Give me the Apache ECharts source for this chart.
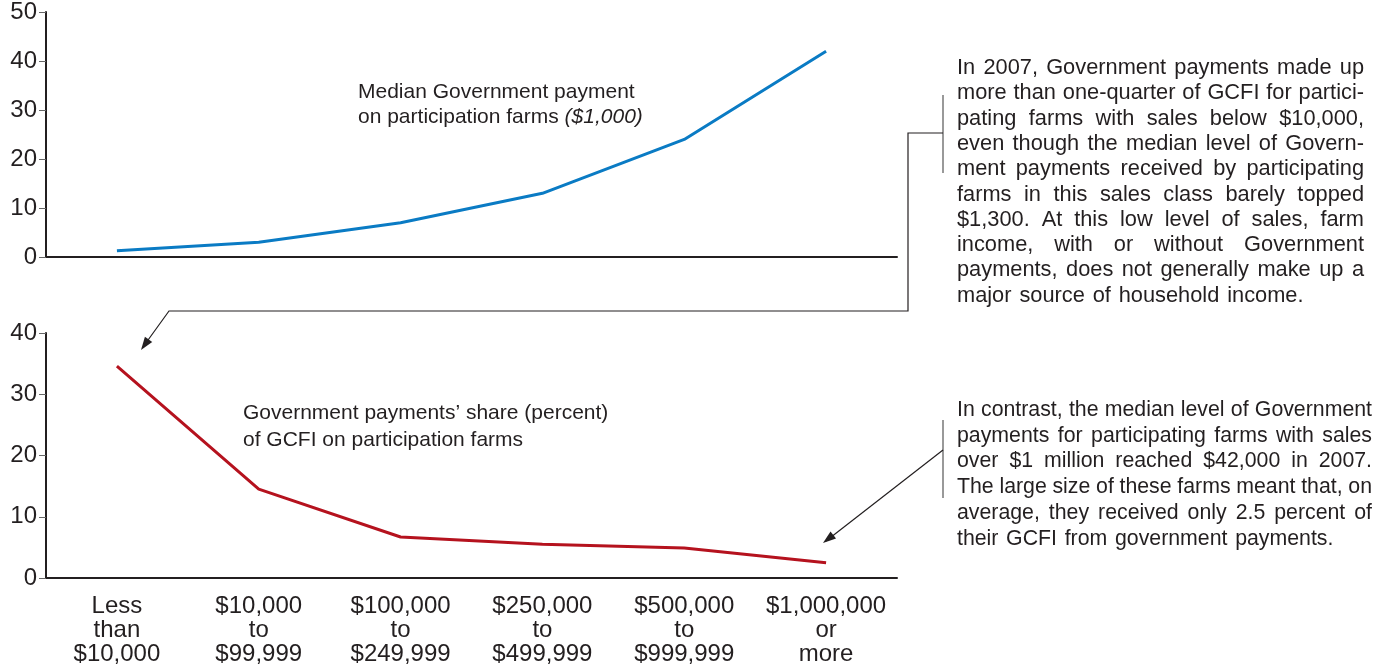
<!DOCTYPE html>
<html>
<head>
<meta charset="utf-8">
<script src="https://cdn.jsdelivr.net/npm/echarts@6/dist/echarts.min.js"></script>
<style>
  html, body { margin: 0; padding: 0; background: #fff; }
  #root { width: 1389px; height: 667px; }
</style>
</head>
<body>
<div id="root"></div>
<script>
// 数据
const categories = ['Less\nthan\n$10,000', '$10,000\nto\n$99,999', '$100,000\nto\n$249,999',
  '$250,000\nto\n$499,999', '$500,000\nto\n$999,999', '$1,000,000\nor\nmore'];
const medianPayment = [1.3, 3, 7, 13, 24, 42];       // $1,000
const paymentShare = [34.6, 14.5, 6.7, 5.5, 4.9, 2.5]; // percent
const topAxisMax = 50;
const bottomAxisMax = 40;

const topNote = [
  'In 2007, Government payments made up',
  'more than one-quarter of GCFI for partici-',
  'pating farms with sales below $10,000,',
  'even though the median level of Govern-',
  'ment payments received by participating',
  'farms in this sales class barely topped',
  '$1,300. At this low level of sales, farm',
  'income, with or without Government',
  'payments, does not generally make up a',
  'major source of household income.'
];
const bottomNote = [
  'In contrast, the median level of Government',
  'payments for participating farms with sales',
  'over $1 million reached $42,000 in 2007.',
  'The large size of these farms meant that, on',
  'average, they received only 2.5 percent of',
  'their GCFI from government payments.'
];

const INK = '#231f20';
const FONT = '"Liberation Sans", Arial, sans-serif';

// 两端对齐的文字，逐词摆放
let measureCtx = document.createElement('canvas').getContext('2d');
let justify = function (lines, left, right, top, lh, size) {
  let font = size + 'px ' + FONT;
  measureCtx.font = font;
  let els = [];
  lines.forEach((line, i) => {
    let words = line.split(' ');
    let widths = words.map(w => measureCtx.measureText(w).width);
    let total = widths.reduce((a, b) => a + b, 0);
    let last = i === lines.length - 1;
    let gap = last ? measureCtx.measureText(' ').width * 1.3 : (right - left - total) / (words.length - 1);
    let x = left;
    words.forEach((w, j) => {
      els.push({
        type: 'text', x: x, y: top + i * lh,
        style: { text: w, font: font, fill: INK, verticalAlign: 'middle' }
      });
      x += widths[j] + gap;
    });
  });
  return els;
};

let arrowHead = function (from, to, len, half) {
  let dx = to[0] - from[0], dy = to[1] - from[1];
  let d = Math.sqrt(dx * dx + dy * dy);
  let ux = dx / d, uy = dy / d;
  let bx = to[0] - ux * len, by = to[1] - uy * len;
  return {
    type: 'polygon',
    shape: { points: [to, [bx - uy * half, by + ux * half], [bx + uy * half, by - ux * half]] },
    style: { fill: INK }
  };
};

let lineStyle = { stroke: INK, lineWidth: 1.2, fill: null };
let graphics = [
  { type: 'polyline', shape: { points: [[943, 95], [943, 173]] }, style: { stroke: '#555', lineWidth: 1.2, fill: null } },
  { type: 'polyline', shape: { points: [[943, 133], [908, 133], [908, 311], [169, 311], [143, 347]] }, style: lineStyle },
  arrowHead([169, 311], [141, 350], 13, 4.5),
  { type: 'polyline', shape: { points: [[943, 420], [943, 498]] }, style: { stroke: '#555', lineWidth: 1.2, fill: null } },
  { type: 'polyline', shape: { points: [[943, 450], [826, 541]] }, style: lineStyle },
  arrowHead([943, 450], [823, 543], 13, 4.5),
  {
    type: 'text', x: 358, y: 79.5,
    style: {
      text: 'Median Government payment\non participation farms {i|($1,000)}',
      font: '21px ' + FONT, fill: INK, lineHeight: 25, verticalAlign: 'top',
      rich: { i: { fontStyle: 'italic', fontSize: 21, fontFamily: FONT, fill: INK, lineHeight: 25 } }
    }
  },
  {
    type: 'text', x: 243, y: 399.5,
    style: {
      text: 'Government payments\u2019 share (percent)\nof GCFI on participation farms',
      font: '21px ' + FONT, fill: INK, lineHeight: 27, verticalAlign: 'top'
    }
  }
].concat(justify(topNote, 957, 1364, 68, 25.3, 21.8))
 .concat(justify(bottomNote, 957, 1372, 410, 25.8, 21.3));

let xAxisBase = {
  type: 'category',
  data: categories,
  boundaryGap: true,
  axisLine: { lineStyle: { color: INK, width: 2 } },
  axisTick: { alignWithLabel: true, length: 8, lineStyle: { color: '#555', width: 1.5 } },
  splitLine: { show: false }
};
let yAxisBase = {
  type: 'value',
  min: 0,
  interval: 10,
  axisLine: { show: true, lineStyle: { color: INK, width: 2 } },
  axisTick: { show: true, length: 7, lineStyle: { color: '#666', width: 1 } },
  splitLine: { show: false },
  axisLabel: { color: INK, fontSize: 24, fontFamily: FONT, margin: 9 }
};

let myChart = echarts.init(document.getElementById('root'));
let option = {
  animation: false,
  grid: [
    { left: 46, right: 492, top: 12, height: 245 },
    { left: 46, right: 492, top: 333, height: 245 }
  ],
  xAxis: [
    Object.assign({}, xAxisBase, { gridIndex: 0, axisLabel: { show: false } }),
    Object.assign({}, xAxisBase, {
      gridIndex: 1,
      axisLabel: { color: INK, fontSize: 24, lineHeight: 24, fontFamily: FONT, margin: 16, interval: 0 }
    })
  ],
  yAxis: [
    Object.assign({}, yAxisBase, { gridIndex: 0, max: topAxisMax }),
    Object.assign({}, yAxisBase, { gridIndex: 1, max: bottomAxisMax })
  ],
  series: [
    {
      name: 'Median Government payment', type: 'line',
      xAxisIndex: 0, yAxisIndex: 0, data: medianPayment,
      showSymbol: false, lineStyle: { color: '#0a7bc4', width: 3 }
    },
    {
      name: 'Government payments share', type: 'line',
      xAxisIndex: 1, yAxisIndex: 1, data: paymentShare,
      showSymbol: false, lineStyle: { color: '#b5121e', width: 3 }
    }
  ],
  graphic: graphics
};
myChart.setOption(option);
</script>
</body>
</html>
